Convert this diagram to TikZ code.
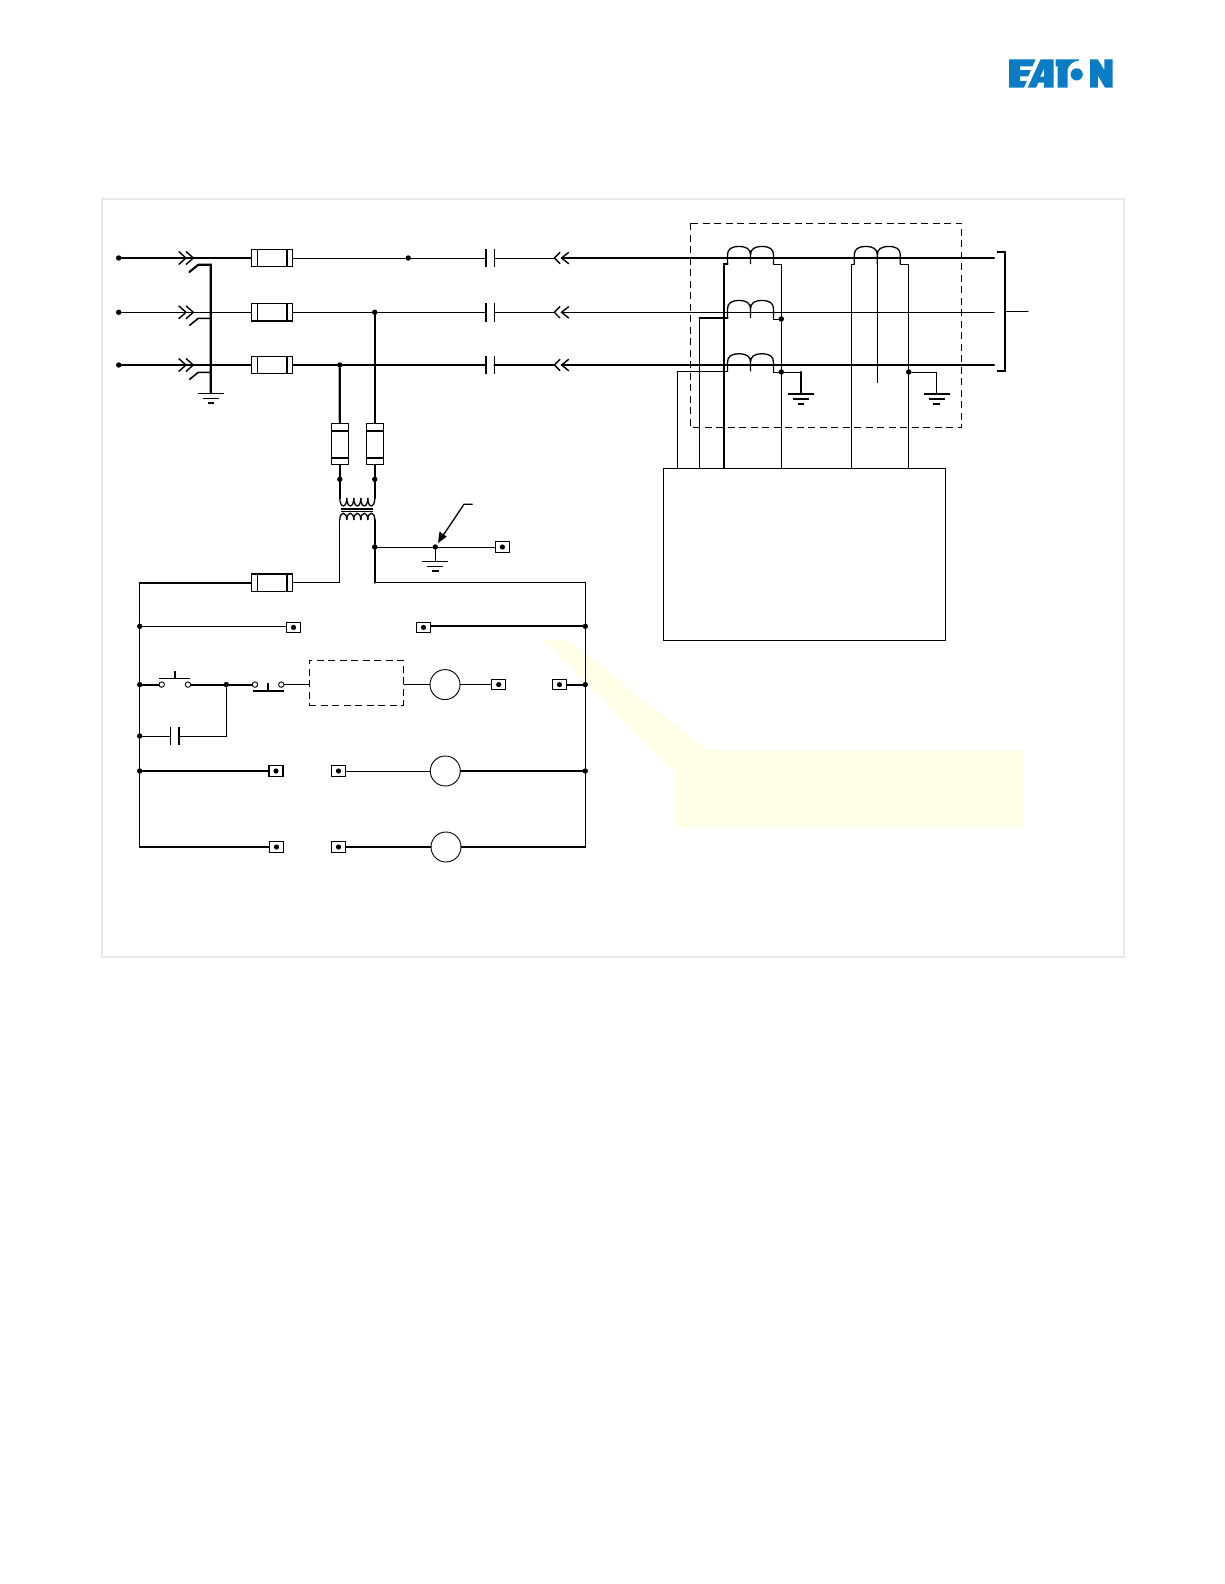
\documentclass[tikz,border=0pt]{standalone}
\definecolor{eatonblue}{HTML}{0A7CC4}
\definecolor{callout}{HTML}{FFFFE8}
\definecolor{framegrey}{HTML}{E8E8E8}
\tikzset{
  thinw/.style={line width=1pt,line cap=round,line join=miter},
  thickw/.style={line width=2.1pt,line cap=round,line join=miter},
  jdot/.style={circle,fill=black,draw=none,inner sep=0pt,minimum size=5.4pt},
  termbox/.style={rectangle,draw,line width=1.05pt,fill=white,inner sep=0pt,minimum width=14pt,minimum height=10.6pt,
    path picture={\fill[black] (path picture bounding box.center) circle (2.6pt);}},
  fusebox/.style={rectangle,draw,line width=1.05pt,fill=white,inner sep=0pt,minimum width=41.4pt,minimum height=17.4pt,
    path picture={\draw[line width=1.6pt] ([xshift=6pt]path picture bounding box.north west) -- ([xshift=6pt]path picture bounding box.south west)
      ([xshift=-6pt]path picture bounding box.north east) -- ([xshift=-6pt]path picture bounding box.south east);}},
  fusevert/.style={rectangle,draw,line width=1.05pt,fill=white,inner sep=0pt,minimum width=17pt,minimum height=41pt,
    path picture={\draw[line width=1.6pt] ([yshift=-7.7pt]path picture bounding box.north west) -- ([yshift=-7.7pt]path picture bounding box.north east)
      ([yshift=6.5pt]path picture bounding box.south west) -- ([yshift=6.5pt]path picture bounding box.south east);}},
  lamp/.style={circle,draw,line width=0.9pt,fill=white,inner sep=0pt,minimum size=30pt},
  opencontact/.style={circle,draw,line width=0.9pt,fill=white,inner sep=0pt,minimum size=5.4pt},
  dashbox/.style={dashed,dash pattern=on 7pt off 4.5pt,line width=1pt},
  chevR/.pic={\draw[line width=1.4pt] (-7.3,-6.5) -- (0,0) -- (-7.3,6.5) (0,-6.5) -- (7.3,0) -- (0,6.5);},
  chevL/.pic={\draw[line width=1.4pt] (5.8,-5.8) -- (0,0) -- (5.8,5.8) (14.5,-5.8) -- (7.3,0) -- (14.5,5.8);},
  ctcoil/.pic={\draw[line width=1.3pt] (-23,0) -- (-23,-9) .. controls (-23,-15) and (-19,-17.5) .. (-11.5,-17.5)
     .. controls (-4,-17.5) and (0,-15) .. (0,-9) -- (0,0) (0,-9) .. controls (0,-15) and (4,-17.5) .. (11.5,-17.5)
     .. controls (19,-17.5) and (23,-15) .. (23,-9) -- (23,0);},
  groundsym/.pic={\draw[line width=1.1pt] (-13,0) -- (13,0) (-8,5) -- (8,5);\draw[line width=1.8pt] (-3.3,10) -- (3.3,10);},
  groundbold/.pic={\draw[line width=1.8pt] (-13,0) -- (13,0) (-8,5) -- (8,5) (-3.3,10) -- (3.3,10);},
}
\begin{document}
\begin{tikzpicture}[x=1pt,y=-1pt]
\useasboundingbox (0,0) rectangle (1224,1584);
% frame
\draw[framegrey,line width=1.4pt] (102,199) rectangle (1124,957);
% callout
\fill[callout] (543.3,640) -- (567.3,640) -- (706.7,750) -- (1024,750) -- (1024,827.7) -- (676,827.7) -- (676,773.3) -- cycle;
% logo
\fill[eatonblue] (1009,59.5) -- (1035.5,59.5) -- (1032.6,66.3) -- (1020,66.3) -- (1020,70.2) -- (1030.8,70.2) -- (1028.3,76.3) -- (1020,76.3) -- (1020,81) -- (1026.8,81) -- (1024,87.7) -- (1009,87.7) -- cycle;
\fill[eatonblue] (1040.5,59.5) -- (1053.5,59.5) -- (1053.5,87.7) -- (1044,87.7) -- (1044,82.6) -- (1038.2,82.6) -- (1036,87.7) -- (1027.6,87.7) -- cycle
  (1044,68.5) -- (1040.2,76.6) -- (1044,76.6) -- cycle;
\fill[eatonblue] (1055.5,59.5) -- (1079,59.5) -- (1079,60.6) .. controls (1073,61) and (1068.8,65) .. (1067.5,69.5) -- (1067.5,87.7) -- (1057.5,87.7) -- (1057.5,66.3) -- (1055.5,66.3) -- cycle;
\fill[eatonblue] (1076.7,74.4) circle (6.1pt);
\fill[eatonblue] (1090,59.5) -- (1097.8,59.5) -- (1104.3,70) -- (1104.3,59.5) -- (1112.5,59.5) -- (1112.5,87.7) -- (1105,87.7) -- (1097.8,75.5) -- (1097.8,87.7) -- (1090,87.7) -- cycle;
% named points: sources
\node[jdot] (sa) at (118.7,258) {};
\node[jdot] (sb) at (118.7,312.3) {};
\node[jdot] (sc) at (118.7,365) {};
\coordinate (ca) at (193.3,258);
\coordinate (cb) at (193.3,312.3);
\coordinate (cc) at (193.3,365);
\node[fusebox] (fa) at (272,258) {};
\node[fusebox] (fb) at (272,312.3) {};
\node[fusebox] (fc) at (272,365) {};
\node[jdot] (ja) at (408.3,258) {};
\node[jdot] (jb) at (374.7,312.3) {};
\node[jdot] (jc) at (339.7,365) {};
\pic at (186,258) {chevR};
\pic at (186,312.3) {chevR};
\pic at (186,365) {chevR};
\draw[thickw] (sa) -- (ca) (ca) -- (fa.west);
\draw[thinw] (sb) -- (cb) (cb) -- (fb.west);
\draw[thickw] (sc) -- (cc) (cc) -- (fc.west);
% draw-out stubs to ground
\coordinate (gv) at (210.7,393.3);
\coordinate (sta) at (210.7,264.7);
\coordinate (stb) at (210.7,318.3);
\coordinate (stc) at (210.7,372.3);
\draw[thickw] (189.3,272) -- (198.3,264.7) -- (sta) -- (gv);
\draw[line width=1.6pt] (189.3,325.6) -- (198.3,318.3) -- (stb);
\draw[line width=1.6pt] (189.3,379.6) -- (198.3,372.3) -- (stc);
\pic at (211,393.3) {groundsym};
% contactor
\coordinate (ka) at (485.7,258);
\coordinate (kb) at (485.7,312.3);
\coordinate (kc) at (485.7,365);
\coordinate (la) at (494.3,258);
\coordinate (lb) at (494.3,312.3);
\coordinate (lc) at (494.3,365);
\foreach \y in {258,312.3,365}{
  \draw[line width=2.2pt] (485.7,\y-9.4) -- (485.7,\y+9.4);
  \draw[line width=1.1pt] (494.3,\y-9.4) -- (494.3,\y+9.4);
  \pic at (554.3,\y) {chevL};
}
\draw[thinw] (fa.east) -- (ja) -- (ka) (la) -- (554.3,258);
\draw[thinw] (fb.east) -- (jb) -- (kb) (lb) -- (554.3,312.3);
\draw[thickw] (fc.east) -- (jc) -- (kc) (lc) -- (554.3,365);
\coordinate (ea) at (994,258);
\coordinate (eb) at (994,312.3);
\coordinate (ec) at (994,365);
\draw[thickw] (562,258) -- (ea);
\draw[thinw] (562,312.3) -- (eb);
\draw[thickw] (562,365) -- (ec);
% bracket
\coordinate (brk) at (1004.7,311.3);
\coordinate (out) at (1028,311.3);
\draw[thickw,line cap=butt] (996.7,251.7) -- (1004.7,251.7) -- (1004.7,371) -- (996.7,371);
\draw[thinw] (brk) -- (out);
% dashed enclosure
\draw[dashbox] (690.3,223.3) rectangle (961.7,427.3);
% relay box
\node[draw,line width=1.05pt,rectangle,inner sep=0pt,minimum width=282pt,minimum height=172pt] (relay) at (804.3,554.3) {};
% current transformers
\pic at (750.5,264) {ctcoil};
\pic at (750.5,318) {ctcoil};
\pic at (750.5,371.3) {ctcoil};
\pic at (877.3,264) {ctcoil};
\node[jdot] (jr1) at (781.3,319) {};
\node[jdot] (jr2) at (781.3,372) {};
\node[jdot] (jr3) at (908.7,372) {};
\coordinate (ra) at (723.7,468.3);
\coordinate (rb) at (699.3,468.3);
\coordinate (rc) at (677.3,468.3);
\coordinate (rd) at (781.3,468.3);
\coordinate (re) at (851.3,468.3);
\coordinate (rf) at (908.7,468.3);
\draw[thickw] (727.5,264) -- (723.7,264) -- (ra);
\draw[thickw] (727.5,318) -- (699.3,318);
\draw[thinw] (699.3,318) -- (rb);
\draw[thinw] (727.5,371.3) -- (677.3,371.3) -- (rc);
\draw[thinw] (773.5,264) -- (781.3,264) -- (rd);
\draw[thinw] (773.5,318) -- (773.5,319) -- (jr1);
\draw[thinw] (773.5,371.3) -- (773.5,372) -- (jr2);
\draw[thinw] (854.3,264) -- (851.3,264) -- (re);
\draw[thinw] (900.3,264) -- (908.7,264) -- (rf);
\draw[thinw] (877.3,258) -- (877.3,382.7);
% grounds of CT
\coordinate (gr1) at (801,394);
\coordinate (gr2) at (936.7,394);
\draw[thinw] (jr2) -- (801,372);
\draw[thickw] (801,372) -- (gr1);
\pic at (801,394) {groundbold};
\draw[thinw] (jr3) -- (936.7,372) -- (gr2);
\pic at (936.7,394) {groundbold};
% PT fuses
\node[fusevert] (fl) at (339.8,443.8) {};
\node[fusevert] (fr) at (374.7,443.8) {};
\node[jdot] (jl) at (339.8,479.3) {};
\node[jdot] (jrr) at (374.7,479.3) {};
\coordinate (pl) at (339.8,498);
\coordinate (pr) at (374.7,498);
\coordinate (sl) at (339.5,520);
\coordinate (sr) at (374.7,520);
\draw[thickw] (jc) -- (fl.north);
\draw[thickw] (jb) -- (fr.north);
\draw[thickw] (fl.south) -- (jl) -- (pl);
\draw[thickw] (fr.south) -- (jrr) -- (pr);
% transformer
\foreach \i in {0,1,2,3,4}{
  \pgfmathsetmacro{\xa}{339.8+7*\i}
  \pgfmathsetmacro{\xb}{339.8+7*\i+7}
  \draw[line width=1.3pt] (\xa,498) .. controls (\xa,508.5) and (\xb,508.5) .. (\xb,498);
  \draw[line width=1.3pt] (\xa,520) .. controls (\xa,511) and (\xb,511) .. (\xb,520);
}
\draw[line width=1.1pt] (341,509) -- (372.7,509) (341,511.2) -- (372.7,511.2);
% PT secondary
\node[jdot] (js) at (374.7,547) {};
\node[jdot] (jg) at (435.3,547) {};
\node[termbox] (tg) at (502.4,547) {};
\coordinate (gp) at (435.3,561.3);
\coordinate (al) at (472.7,504.3);
\coordinate (ab) at (464,504.3);
\coordinate (at) at (438,543);
\draw[thickw] (sr) -- (js);
\draw[thinw] (js) -- (jg) -- (tg);
\draw[thinw] (jg) -- (gp);
\pic at (435.3,561.3) {groundsym};
\draw[line width=1.3pt] (al) -- (ab) -- (443,535.5);
\fill (at) -- (439.5,531.5) -- (446.6,536.8) -- cycle;
% control circuit
\coordinate (tl) at (139.7,582.7);
\coordinate (bl) at (139.7,847);
\coordinate (tr) at (585.3,582.7);
\coordinate (br) at (585.3,847);
\node[fusebox] (fct) at (272.2,582.7) {};
\draw[thickw] (fct.west) -- (tl);
\draw[thinw] (tl) -- (bl);
\draw[thinw] (fct.east) -- (339.5,582.7) -- (sl);
\draw[thickw] (js) -- (374.7,582.7);
\draw[thinw] (374.7,582.7) -- (tr) -- (br);
% row 1
\node[jdot] (r1l) at (139.7,626.3) {};
\node[jdot] (r1r) at (585.3,626.3) {};
\node[termbox] (t1a) at (293.5,627.4) {};
\node[termbox] (t1b) at (423.5,627.4) {};
\draw[thinw] (r1l) -- (t1a.west |- r1l);
\draw[thickw] (t1b.east |- r1r) -- (r1r);
% row 2
\node[jdot] (r2l) at (139.7,684.6) {};
\node[jdot] (r2r) at (585.3,684.6) {};
\node[jdot] (r2m) at (226.3,684.6) {};
\node[opencontact] (pb1) at (161.7,684.6) {};
\node[opencontact] (pb2) at (188,684.6) {};
\node[opencontact] (pb3) at (255,684.6) {};
\node[opencontact] (pb4) at (281.3,684.6) {};
\node[draw,dashed,dash pattern=on 7pt off 4.5pt,line width=1pt,rectangle,inner sep=0pt,minimum width=94pt,minimum height=45pt] (dbx) at (356.3,682.8) {};
\node[lamp] (m1) at (445,684.6) {};
\node[termbox] (t2a) at (498.7,684.6) {};
\node[termbox] (t2b) at (559.5,684.6) {};
\draw[thickw] (r2l) -- (pb1);
\draw[thickw] (pb2) -- (r2m) -- (pb3);
\draw[line width=1.3pt] (159.3,678.3) -- (190,678.3);
\draw[line width=1.6pt] (175,671.3) -- (175,678.3);
\draw[line width=2pt] (253,690.7) -- (284,690.7);
\draw[line width=1.6pt] (268,683.3) -- (268,690.7);
\draw[thinw] (pb4.east) -- (dbx.west |- pb4.east);
\draw[thinw] (dbx.east |- m1) -- (m1.west);
\draw[thinw] (m1.east) -- (t2a.west);
\draw[thickw] (t2b.east |- r2r) -- (r2r);
% row 3
\node[jdot] (r3l) at (139.7,736) {};
\coordinate (cp1) at (170.3,736);
\coordinate (cp2) at (179,736);
\draw[thinw] (r3l) -- (cp1);
\draw[line width=1.1pt] (170.3,727.3) -- (170.3,745);
\draw[line width=2pt] (179,727.3) -- (179,745);
\draw[thinw] (cp2) -- (226.3,736) -- (r2m);
% row 4
\node[jdot] (r4l) at (139.7,771) {};
\node[jdot] (r4r) at (585.3,771) {};
\node[termbox] (t4a) at (276,771) {};
\node[termbox] (t4b) at (338.5,771) {};
\node[lamp] (m2) at (445.3,771) {};
\draw[thickw] (r4l) -- (t4a.west);
\draw[thinw] (t4b.east) -- (m2.west);
\draw[thickw] (m2.east) -- (r4r);
% row 5
\node[termbox] (t5a) at (276.5,847) {};
\node[termbox] (t5b) at (338.5,847) {};
\node[lamp] (m3) at (446,847) {};
\draw[thickw] (bl) -- (t5a.west);
\draw[thickw] (t5b.east) -- (m3.west);
\draw[thickw] (m3.east) -- (br);
\end{tikzpicture}
\end{document}
